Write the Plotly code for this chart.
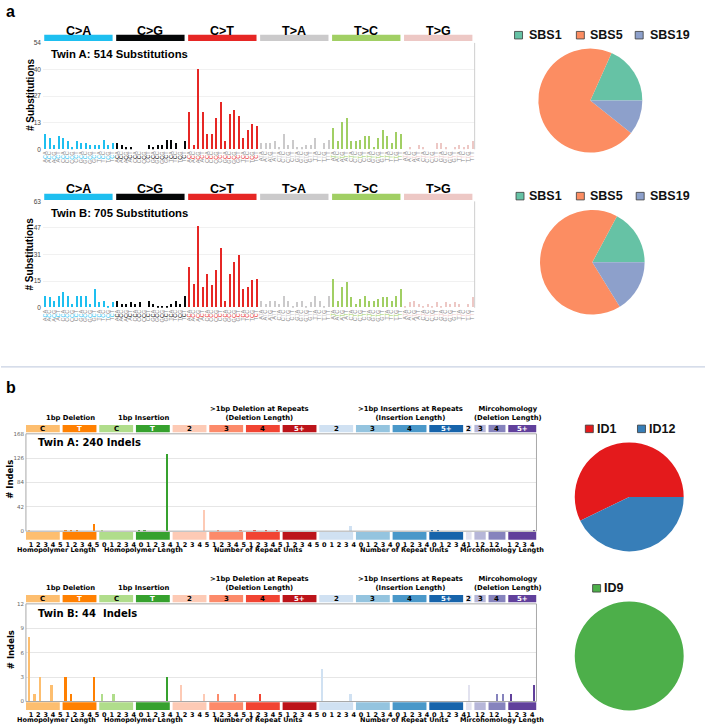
import plotly.graph_objects as go

W, H = 706, 726

# ---------------- SBS data ----------------
SBS_TYPES = ["C>A", "C>G", "C>T", "T>A", "T>C", "T>G"]
SBS_COLORS = ["#1EBFF0", "#050708", "#E62725", "#CBCACB", "#A1CF64", "#EDC8C5"]
BASES = ["A", "C", "G", "T"]

TWIN_A_CA = [8, 6, 2, 7, 6, 4, 1, 4, 3, 3, 2, 2, 2, 5, 2, 3]
TWIN_A_CG = [3, 2, 1, 1, 0, 0, 0, 2, 1, 2, 2, 5, 5, 3, 0, 4]
TWIN_A_CT = [19, 2, 41, 19, 8, 8, 16, 24, 4, 18, 20, 17, 6, 10, 13, 12]
TWIN_A_TA = [3, 3, 3, 4, 1, 8, 2, 5, 1, 1, 2, 2, 6, 0, 3, 5]
TWIN_A_TC = [11, 4, 14, 16, 4, 4, 5, 7, 7, 1, 6, 10, 7, 3, 9, 8]
TWIN_A_TG = [0, 1, 0, 2, 1, 0, 0, 3, 3, 1, 0, 1, 2, 1, 2, 4]

TWIN_B_CA = [7, 6, 4, 7, 9, 7, 2, 7, 7, 7, 2, 11, 3, 4, 1, 3]
TWIN_B_CG = [4, 2, 2, 3, 2, 3, 0, 4, 2, 1, 1, 1, 2, 4, 2, 7]
TWIN_B_CT = [24, 14, 48, 12, 20, 13, 22, 35, 4, 20, 27, 31, 11, 12, 16, 17]
TWIN_B_TA = [4, 2, 4, 4, 2, 7, 4, 1, 3, 4, 1, 3, 7, 4, 1, 7]
TWIN_B_TC = [17, 4, 12, 15, 6, 2, 5, 7, 4, 4, 5, 6, 6, 4, 7, 11]
TWIN_B_TG = [1, 3, 4, 2, 1, 2, 1, 3, 1, 3, 2, 3, 2, 0, 2, 6]

SBS_A_YTICKS = [0, 13.5, 27, 40.5, 54]
SBS_A_YTEXT = ["0", "13", "27", "40", "54"]
SBS_B_YTICKS = [0, 15.75, 31.5, 47.25, 63]
SBS_B_YTEXT = ["0", "15", "31", "47", "63"]

SBS_SIGS = ["SBS1", "SBS5", "SBS19"]
SBS_SIG_COLORS = ["#66C2A5", "#FC8D62", "#8DA0CB"]
TWIN_A_SBS_SIG = [18.3, 71.0, 10.7]
TWIN_B_SBS_SIG = [17.2, 66.6, 16.2]

# ---------------- ID data ----------------
ID_GROUP_LABELS = ["C", "T", "C", "T", "2", "3", "4", "5+", "2", "3", "4", "5+", "2", "3", "4", "5+"]
ID_GROUP_SIZES = [6] * 12 + [1, 2, 3, 5]
ID_GROUP_COLORS = ["#FDBE6F", "#FF8001", "#B0DD8B", "#36A12E",
                   "#FDCAB5", "#FC8A6A", "#F14432", "#BC141A",
                   "#D0E1F2", "#94C4DF", "#4A98C9", "#1764AB",
                   "#E2E2EF", "#B6B6D8", "#8683BD", "#61409B"]
ID_GROUP_TEXT_COLORS = ["black", "white", "black", "white",
                        "black", "black", "black", "white",
                        "black", "black", "black", "white",
                        "black", "black", "black", "white"]
ID_DEL_TICKS = ["1", "2", "3", "4", "5"]
ID_INS_TICKS = ["0", "1", "2", "3", "4"]
ID_MH_TICKS = [["1"], ["1", "2"], ["1", "2"], ["1", "2", "3", "4"]]

TWIN_A_DEL1 = [1, 0, 0, 0, 0, 0, 1, 1, 1, 0, 0, 13]
TWIN_A_INS1 = [1, 0, 0, 0, 0, 0, 2, 1, 0, 0, 0, 134]
TWIN_A_DEL_REP = [0, 0, 0, 0, 0, 37, 0, 1, 0, 0, 0, 2, 0, 1, 0, 2, 0, 1, 0, 0, 0, 0, 0, 0]
TWIN_A_INS_REP = [0, 0, 0, 0, 0, 10, 0, 0, 0, 0, 0, 0, 0, 0, 0, 0, 0, 0, 2, 1, 0, 0, 0, 0]
TWIN_A_MH = [0, 0, 0, 0, 0, 0, 0, 0, 0, 0, 2]

TWIN_B_DEL1 = [8, 1, 3, 0, 2, 0, 3, 1, 0, 0, 0, 3]
TWIN_B_INS1 = [1, 0, 1, 0, 0, 0, 0, 0, 0, 0, 0, 3]
TWIN_B_DEL_REP = [0, 2, 0, 0, 0, 1, 0, 1, 0, 0, 1, 0, 0, 0, 1, 0, 0, 0, 0, 0, 0, 0, 0, 0]
TWIN_B_INS_REP = [4, 0, 0, 0, 0, 1, 0, 0, 0, 0, 0, 0, 0, 0, 0, 0, 0, 0, 0, 0, 0, 0, 0, 0]
TWIN_B_MH = [2, 0, 0, 0, 1, 1, 1, 0, 0, 0, 2]

ID_A_YTICKS = [0, 42, 84, 126, 168]
ID_B_YTICKS = [0, 3, 6, 9, 12]

ID_SIGS_A = ["ID1", "ID12"]
ID_SIG_COLORS_A = ["#E41A1C", "#377EB8"]
TWIN_A_ID_SIG = [57.2, 42.8]
ID_SIGS_B = ["ID9"]
ID_SIG_COLORS_B = ["#4DAF4A"]
TWIN_B_ID_SIG = [100]

ID_TOP_TITLES = ["1bp Deletion", "1bp Insertion", ">1bp Deletion at Repeats<br>(Deletion Length)",
                 ">1bp Insertions at Repeats<br>(Insertion Length)", "Mircohomology<br>(Deletion Length)"]
ID_BOTTOM_TITLES = ["Homopolymer Length", "Homopolymer Length", "Number of Repeat Units",
                    "Number of Repeat Units", "Mircohomology Length"]

ARIAL = "Liberation Sans, Arial, sans-serif"
DEJ = "DejaVu Sans, Verdana, sans-serif"


def fx(p):
    return p / W


def fy(p):
    return 1 - p / H


fig = go.Figure()
shapes = []
annotations = []

# ================= SBS panels =================
sbs_x = list(range(96))
sbs_colors = [c for c in SBS_COLORS for _ in range(16)]
sbs_ticktext = []
for t, c in zip(SBS_TYPES, SBS_COLORS):
    ref = t[0]
    for b5 in BASES:
        for b3 in BASES:
            sbs_ticktext.append(
                f"<span style='color:#8a8a8a'>{b5}</span><span style='color:{c}'>{ref}</span>"
                f"<span style='color:#8a8a8a'>{b3}</span>")

sbs_panels = [
    dict(xa="x", ya="y", top=39.3, zero=146.7, ymax=54, yt=SBS_A_YTICKS, ytt=SBS_A_YTEXT,
         vals=TWIN_A_CA + TWIN_A_CG + TWIN_A_CT + TWIN_A_TA + TWIN_A_TC + TWIN_A_TG,
         title="Twin A: 514 Substitutions", box=(31.0, 37.3), txt=26.8, ttl=50.5, ytitle=91),
    dict(xa="x2", ya="y2", top=199.3, zero=306.7, ymax=63, yt=SBS_B_YTICKS, ytt=SBS_B_YTEXT,
         vals=TWIN_B_CA + TWIN_B_CG + TWIN_B_CT + TWIN_B_TA + TWIN_B_TC + TWIN_B_TG,
         title="Twin B: 705 Substitutions", box=(191.5, 198.0), txt=187.3, ttl=210.8, ytitle=252),
]

for i, p in enumerate(sbs_panels):
    sfx = "" if i == 0 else str(i + 1)
    fig.add_trace(go.Bar(x=sbs_x, y=p["vals"], marker=dict(color=sbs_colors, line=dict(width=0)),
                         width=0.45, xaxis=p["xa"], yaxis=p["ya"], showlegend=False,
                         hoverinfo="x+y"))
    fig.layout["xaxis" + sfx] = dict(
        domain=[fx(42), fx(475)], range=[-0.5, 95.5], anchor=p["ya"],
        tickmode="array", tickvals=sbs_x, ticktext=sbs_ticktext, tickangle=-90,
        tickfont=dict(size=5.5, family=ARIAL, color="#8a8a8a"), ticks="", showgrid=False,
        zeroline=False, showline=False, ticklabelstandoff=0, fixedrange=True)
    fig.layout["yaxis" + sfx] = dict(
        domain=[fy(p["zero"]), fy(p["top"])], range=[0, p["ymax"]], anchor=p["xa"],
        tickmode="array", tickvals=p["yt"], ticktext=p["ytt"],
        tickfont=dict(size=6.5, family=ARIAL, color="#444"), ticks="",
        showgrid=True, gridcolor="#f1f1f1", gridwidth=1, zeroline=False, showline=False,
        ticklabelstandoff=1, fixedrange=True)
    shapes.append(dict(type="line", xref=p["xa"] + " domain", yref=p["ya"] + " domain",
                       x0=1, x1=1, y0=0, y1=1, line=dict(color="#cfcfcf", width=1)))
    for g, (t, c) in enumerate(zip(SBS_TYPES, SBS_COLORS)):
        shapes.append(dict(type="rect", xref=p["xa"], yref="paper",
                           x0=g * 16 - 0.2, x1=g * 16 + 15.0,
                           y0=fy(p["box"][1]), y1=fy(p["box"][0]),
                           fillcolor=c, line=dict(width=0), layer="above"))
        annotations.append(dict(text=f"<b>{t.replace('>', '&gt;')}</b>", xref=p["xa"], yref="paper",
                                x=g * 16 + 7.4, y=fy(p["txt"]), showarrow=False,
                                font=dict(size=12.5, family=ARIAL, color="black"),
                                xanchor="center", yanchor="middle"))
    annotations.append(dict(text=f"<b>{p['title']}</b>", xref="paper", yref="paper",
                            x=fx(48), y=fy(p["ttl"]), showarrow=False, xanchor="left",
                            yanchor="middle", font=dict(size=11.3, family=ARIAL, color="black")))
    annotations.append(dict(text="<b># Substitutions</b>", xref="paper", yref="paper",
                            x=fx(29), y=fy(p["ytitle"]), showarrow=False, textangle=-90,
                            xanchor="center", yanchor="middle",
                            font=dict(size=10, family=ARIAL, color="black")))

# ================= ID panels =================
starts = []
pos = 0.0
for s in ID_GROUP_SIZES:
    starts.append(pos)
    pos += s + 0.5
id_x = [st + k for st, s in zip(starts, ID_GROUP_SIZES) for k in range(s)]
id_colors = [c for c, s in zip(ID_GROUP_COLORS, ID_GROUP_SIZES) for _ in range(s)]
id_range = [-0.5, starts[-1] + ID_GROUP_SIZES[-1] - 0.5]

id_tickvals, id_ticktext = [], []
for g, (st, s) in enumerate(zip(starts, ID_GROUP_SIZES)):
    if g < 12:
        labs = ID_DEL_TICKS if (g in (0, 1) or 4 <= g <= 7) else ID_INS_TICKS
        for k, lab in enumerate(labs):
            id_tickvals.append(st + 0.4 + k * 1.3)
            id_ticktext.append(lab)
    else:
        labs = ID_MH_TICKS[g - 12]
        step = 1.35 if len(labs) > 2 else 1.0
        off = -0.3 if len(labs) > 2 else 0.0
        for k, lab in enumerate(labs):
            id_tickvals.append(st + off + k * step)
            id_ticktext.append(lab)

TOP_TITLE_X = [70, 143, 259, 411, 508]
BOTTOM_TITLE_X = [56, 143, 258, 404, 502]

id_panels = [
    dict(xa="x3", ya="y3", top=434.0, zero=532.3, ymax=168, yt=ID_A_YTICKS,
         vals=TWIN_A_DEL1 + TWIN_A_INS1 + TWIN_A_DEL_REP + TWIN_A_INS_REP + TWIN_A_MH,
         title="Twin A: 240 Indels", ttl=443, ytitle=480),
    dict(xa="x4", ya="y4", top=605.7, zero=704.3, ymax=12, yt=ID_B_YTICKS,
         vals=TWIN_B_DEL1 + TWIN_B_INS1 + TWIN_B_DEL_REP + TWIN_B_INS_REP + TWIN_B_MH,
         title="Twin B: 44\u00a0 Indels", ttl=615, ytitle=652),
]

for i, p in enumerate(id_panels):
    sfx = str(i + 3)
    fig.add_trace(go.Bar(x=id_x, y=p["vals"], marker=dict(color=id_colors, line=dict(width=0)),
                         width=0.42, xaxis=p["xa"], yaxis=p["ya"], showlegend=False,
                         hoverinfo="y"))
    fig.layout["xaxis" + sfx] = dict(
        domain=[fx(25), fx(537)], range=id_range, anchor=p["ya"],
        tickmode="array", tickvals=id_tickvals, ticktext=[f"<b>{t}</b>" for t in id_ticktext],
        tickangle=0, tickfont=dict(size=6.5, family=DEJ, color="black"), ticks="",
        showgrid=False, zeroline=False, showline=False, ticklabelstandoff=8, fixedrange=True)
    fig.layout["yaxis" + sfx] = dict(
        domain=[fy(p["zero"]), fy(p["top"])], range=[0, p["ymax"]], anchor=p["xa"],
        tickmode="array", tickvals=p["yt"], ticktext=[str(v) for v in p["yt"]],
        tickfont=dict(size=5.5, family=DEJ, color="#666"), ticks="",
        showgrid=True, gridcolor="#e6e6e6", gridwidth=1, zeroline=False, showline=False,
        ticklabelstandoff=1, fixedrange=True)
    shapes.append(dict(type="rect", xref=p["xa"] + " domain", yref=p["ya"] + " domain",
                       x0=0, x1=1, y0=0, y1=1, line=dict(color="#a8a8a8", width=1)))
    top, zero = p["top"], p["zero"]
    for g, (st, s) in enumerate(zip(starts, ID_GROUP_SIZES)):
        c = ID_GROUP_COLORS[g]
        for (b0, b1) in [(top - 9.0, top - 1.6), (zero + 0.8, zero + 8.6)]:
            shapes.append(dict(type="rect", xref=p["xa"], yref="paper",
                               x0=st - 0.5, x1=st + s - 0.5, y0=fy(b1), y1=fy(b0),
                               fillcolor=c, line=dict(width=0), layer="above"))
        annotations.append(dict(text=f"<b>{ID_GROUP_LABELS[g]}</b>", xref=p["xa"], yref="paper",
                                x=st + (s - 1) / 2, y=fy(top - 5.3), showarrow=False,
                                xanchor="center", yanchor="middle",
                                font=dict(size=7, family=DEJ, color=ID_GROUP_TEXT_COLORS[g])))
    for t, xc in zip(ID_TOP_TITLES, TOP_TITLE_X):
        annotations.append(dict(text=f"<b>{t}</b>", xref="paper", yref="paper",
                                x=fx(xc), y=fy(top - 10.0), showarrow=False,
                                xanchor="center", yanchor="bottom",
                                font=dict(size=6.8, family=DEJ, color="black")))
    for t, xc in zip(ID_BOTTOM_TITLES, BOTTOM_TITLE_X):
        annotations.append(dict(text=f"<b>{t}</b>", xref="paper", yref="paper",
                                x=fx(xc), y=fy(zero + 18.8), showarrow=False,
                                xanchor="center", yanchor="middle",
                                font=dict(size=6.5, family=DEJ, color="black")))
    annotations.append(dict(text=f"<b>{p['title']}</b>", xref="paper", yref="paper",
                            x=fx(35), y=fy(p["ttl"]), showarrow=False, xanchor="left",
                            yanchor="middle", font=dict(size=10, family=DEJ, color="black")))
    annotations.append(dict(text="<b># Indels</b>", xref="paper", yref="paper",
                            x=fx(9.5), y=fy(p["ytitle"]), showarrow=False, textangle=-90,
                            xanchor="center", yanchor="middle",
                            font=dict(size=8.5, family=DEJ, color="black")))

# ================= Pies =================
pies = [
    (SBS_SIGS, TWIN_A_SBS_SIG, SBS_SIG_COLORS, 591, 97.5, 52.5),
    (SBS_SIGS, TWIN_B_SBS_SIG, SBS_SIG_COLORS, 593, 260.8, 52.8),
    (ID_SIGS_A, TWIN_A_ID_SIG, ID_SIG_COLORS_A, 630, 497.7, 55),
    (ID_SIGS_B, TWIN_B_ID_SIG, ID_SIG_COLORS_B, 630, 658.3, 55),
]
for labels, vals, cols, cx, cy, r in pies:
    # first slice begins at 3 o'clock and runs counter-clockwise
    first_deg = 360.0 * vals[0] / sum(vals)
    fig.add_trace(go.Pie(labels=labels, values=vals, marker=dict(colors=cols, line=dict(width=0)),
                         sort=False, direction="counterclockwise", rotation=90 - first_deg,
                         textinfo="none", showlegend=False, hoverinfo="label+percent",
                         domain=dict(x=[fx(cx - r), fx(cx + r)], y=[fy(cy + r), fy(cy - r)])))

legends = [
    (SBS_SIGS, SBS_SIG_COLORS, 31.5, [515, 577, 636], [527.5, 588.5, 648.5]),
    (SBS_SIGS, SBS_SIG_COLORS, 194.0, [516.5, 577, 637], [527.5, 588.5, 648.5]),
    (ID_SIGS_A, ID_SIG_COLORS_A, 429.0, [586, 638.3], [596, 647.5]),
    (ID_SIGS_B, ID_SIG_COLORS_B, 590.0, [593.3], [602.5]),
]
for labels, cols, yc, sqx, tx in legends:
    for lab, c, sx, t in zip(labels, cols, sqx, tx):
        shapes.append(dict(type="rect", xref="paper", yref="paper",
                           x0=fx(sx), x1=fx(sx + 8), y0=fy(yc + 3.8), y1=fy(yc - 3.8),
                           fillcolor=c, line=dict(color="#3a3a3a", width=0.8)))
        annotations.append(dict(text=f"<b>{lab}</b>", xref="paper", yref="paper",
                                x=fx(t), y=fy(yc), showarrow=False, xanchor="left",
                                yanchor="middle", font=dict(size=12.5, family=ARIAL, color="#111")))

annotations.append(dict(text="<b>a</b>", xref="paper", yref="paper", x=fx(3), y=fy(8),
                        showarrow=False, xanchor="left", yanchor="middle",
                        font=dict(size=16, family=ARIAL, color="black")))
annotations.append(dict(text="<b>b</b>", xref="paper", yref="paper", x=fx(3), y=fy(387),
                        showarrow=False, xanchor="left", yanchor="middle",
                        font=dict(size=16, family=ARIAL, color="black")))
shapes.append(dict(type="line", xref="paper", yref="paper", x0=0, x1=1, y0=fy(366.5), y1=fy(366.5),
                   line=dict(color="#c9d2e3", width=1.2)))

fig.update_layout(width=W, height=H, margin=dict(l=0, r=0, t=0, b=0),
                  paper_bgcolor="white", plot_bgcolor="white",
                  shapes=shapes, annotations=annotations, bargap=0, showlegend=False)

fig.write_html("out.html", config={"displayModeBar": False},
               post_script="document.body.style.margin='0';document.body.style.padding='0';"
                           "document.body.style.overflow='hidden';")
